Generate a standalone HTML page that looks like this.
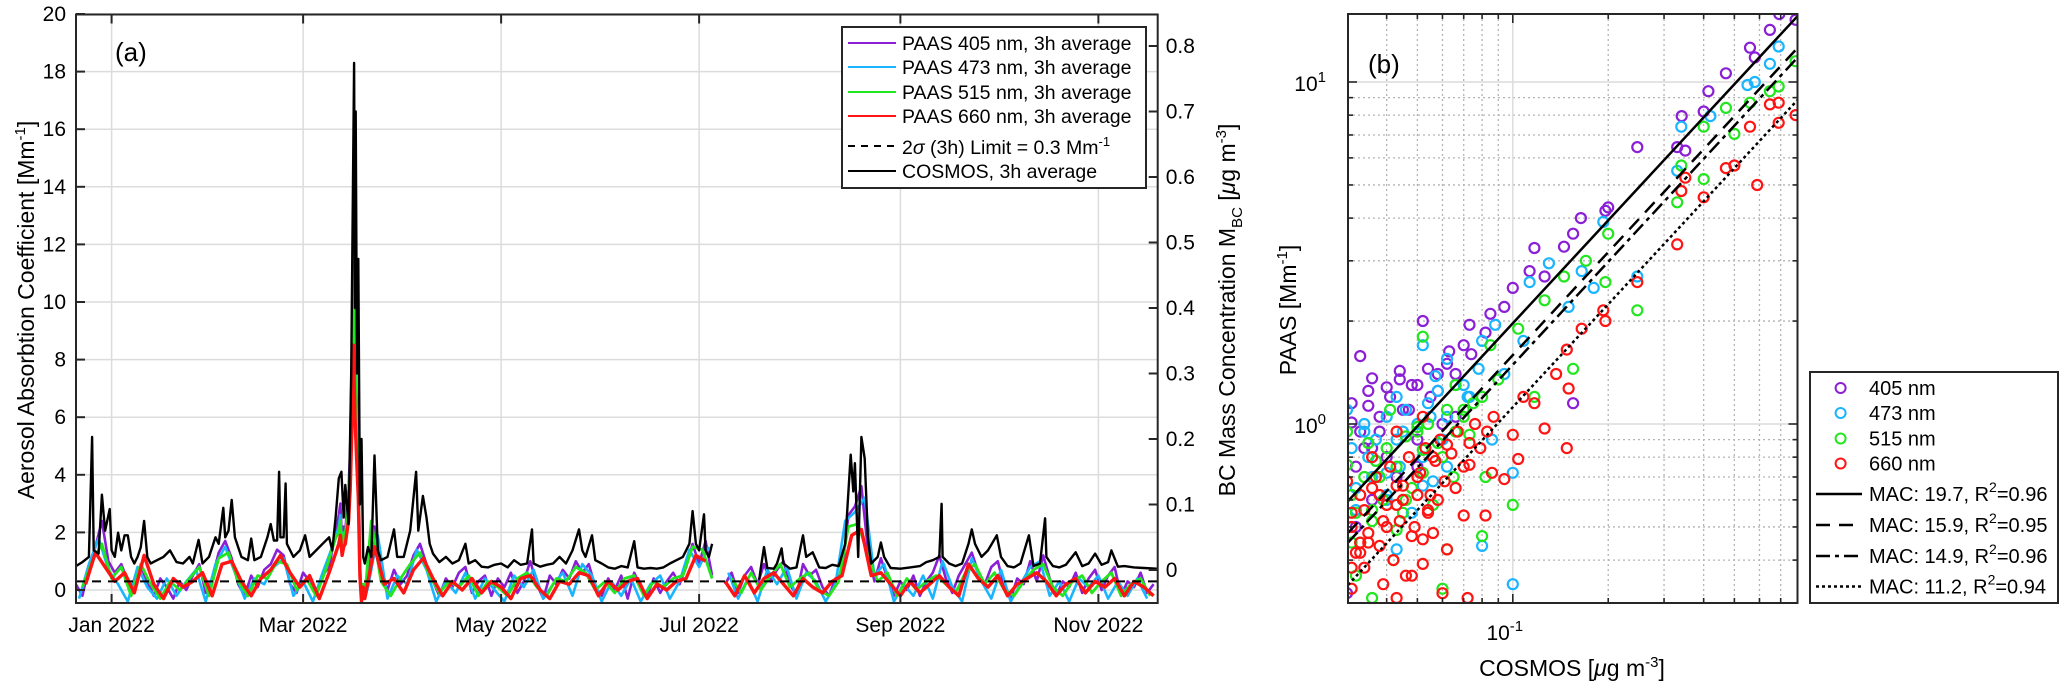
<!DOCTYPE html>
<html><head><meta charset="utf-8">
<style>
html,body{margin:0;padding:0;background:#fff;}
svg{display:block;font-family:"Liberation Sans",Arial,sans-serif;}
</style></head>
<body>
<svg id="fig" width="2067" height="689" viewBox="0 0 2067 689" xmlns="http://www.w3.org/2000/svg">
<defs>
<clipPath id="clipA"><rect x="76" y="14.5" width="1081.7" height="588.5"/></clipPath>
<clipPath id="clipB"><rect x="1348" y="14" width="449.5" height="589"/></clipPath>
</defs>
<g id="panelA"></g>
<g id="panelB"></g>
</svg>
<script>
// ---------- Panel (a) data ----------
const monthLabels = ["Jan 2022","Mar 2022","May 2022","Jul 2022","Sep 2022","Nov 2022"];
const monthDays = [0,59,120,181,243,304];
const leftTicks = [0,2,4,6,8,10,12,14,16,18,20];
const rightTicks = [0,0.1,0.2,0.3,0.4,0.5,0.6,0.7,0.8];
const limitValue = 0.3;
// COSMOS (ug m-3) – day offsets from 1 Jan 2022
const cosmosDays = [-11,-9,-7,-6,-5.5,-4,-3,-2,-0.6,0,1,2,3,4,5,6,7,8,9,10,11,12,14,16,18,20,22,24,25,26.8,28,30,32,33,34.4,35,36,37,38,40,42,43,44,46,48,49,50,51,51.6,52,53,53.6,54,56,58,59.6,61,63,65,67,68,69,70,70.8,71.5,72,73,73.8,74.7,75,75.2,75.6,76,76.5,77,77.5,78,79,80,81,82,83,85,87,88,90,92,93.8,94.5,95.9,97,98,99,101,103,105,107,109,110,112,114,116,118,120,122,124,126,128,129.5,130,132,134,136,138,140,142,144,145,146,148,149,151,153,155,157,159,161,162,164,166,168,170,172,174,176,178,179,180,181,182.5,183,184,185,185.5,199.5,200,201,202,204,205,206.4,207,209,211,213,214,216,218,220,222,224,225,226,227.7,228.5,229,230,231,232,233,234,236,237,238,240,243,246,249,251,253,255,255.7,256,258,260,262,264,265,266,268,270,272.7,274,276,278,280,282.6,284,286,287.6,288,290,292,294,297,299,301,303,305,307,308,310,312,315,318,322];
const cosmosVals = [.006,.012,.02,.203,.03,.025,.115,.06,.093,.03,.02,.057,.03,.053,.053,.02,.01,.02,.035,.075,.02,.01,.015,.02,.03,.012,.01,.02,.01,.046,.01,.02,.05,.04,.095,.05,.06,.107,.05,.02,.015,.048,.015,.02,.05,.07,.045,.045,.15,.05,.05,.132,.04,.02,.03,.053,.02,.03,.04,.05,.03,.08,.14,.15,.08,.13,.07,.3,.774,.4,.70,.3,.475,.1,.2,.02,.01,.035,.02,.175,.03,.015,.02,.062,.02,.02,.06,.15,.06,.113,.08,.04,.025,.012,.02,.01,.015,.04,.01,.015,.005,.004,.008,.01,.004,.015,.008,.01,.062,.01,.005,.008,.01,.02,.01,.03,.062,.03,.02,.053,.015,.01,.004,.002,.006,.004,.044,.004,.002,.003,.002,.004,.01,.015,.02,.04,.09,.04,.03,.085,.03,.02,.04,null,-.015,.003,.035,.003,.002,.01,.033,.01,.002,.004,.053,.02,.027,.004,.003,.008,.006,.023,.04,.176,.12,.163,.02,.203,.17,.05,.01,.02,.042,.02,.003,.002,.004,.006,.012,.015,.02,.101,.02,.01,.006,.01,.04,.062,.04,.02,.03,.053,.02,.006,.004,.01,.053,.006,.01,.079,.02,.006,.004,.008,.027,.006,.01,.025,.008,.012,.03,.005,.006,.004,.003,.002];
// PAAS series (Mm-1)
const paas405 = [0.2,-0.2,0.8,1.5,2.4,1.0,0.6,0.9,0.3,-0.1,0.8,0.3,-0.2,0.4,0.1,-0.3,0.3,0.0,0.5,0.9,-0.1,0.4,1.3,1.7,1.1,0.2,-0.2,0.5,0.1,0.7,0.9,1.4,1.2,0.2,-0.1,0.6,0.3,-0.2,0.5,0.8,2.0,
2.6,3.0,1.6,2.2,2.0,2.8,3.5,5.0,8.0,13.0,9.0,6.5,5.0,1.0,-0.3,0.2,-0.2,
0.4,2.2,0.6,0.0,0.7,0.2,0.5,1.2,1.6,0.9,0.3,-0.2,0.4,0.1,0.6,0.8,-0.1,0.3,0.5,-0.2,0.4,0.1,0.6,-0.1,0.3,1.0,0.2,-0.3,0.5,0.2,0.7,0.4,1.0,0.6,0.9,0.1,-0.2,0.4,0.0,0.5,-0.3,0.6,0.1,-0.2,0.4,-0.1,0.3,0.6,0.2,0.8,1.6,0.9,1.7,0.5,null,0.2,0.6,-0.1,0.5,0.8,0.2,0.9,0.3,0.7,1.0,0.2,-0.2,0.9,0.5,0.7,0.1,-0.2,0.4,0.6,2.6,2.9,3.6,1.4,0.3,1.1,0.4,-0.2,0.3,0.0,0.5,-0.2,0.3,0.6,1.2,0.4,-0.1,0.5,0.9,1.3,0.6,0.2,0.8,1.0,0.1,-0.3,0.4,0.2,1.0,0.3,1.2,0.4,-0.2,0.3,0.1,0.6,-0.1,0.4,0.7,0.0,0.5,0.8,-0.2,0.3,0.1,0.6,-0.1,0.2];
const paas473 = [-0.3,0.9,1.8,0.7,0.2,-0.4,0.8,0.1,-0.3,0.4,-0.2,0.3,0.7,-0.4,0.9,1.5,0.6,-0.3,0.4,0.2,0.8,1.1,-0.2,0.3,-0.4,0.6,1.5,
2.2,2.6,1.3,2.0,1.8,2.5,3.2,4.6,7.5,12.0,8.5,6.0,4.5,0.8,-0.4,0.1,-0.3,
0.1,1.9,-0.3,0.5,0.2,1.4,0.7,-0.4,0.3,-0.1,0.6,-0.3,0.4,0.0,-0.4,0.5,0.1,0.7,-0.3,0.2,0.6,-0.2,0.9,0.5,-0.4,0.3,-0.2,0.4,-0.4,0.2,0.5,-0.3,0.3,1.4,0.8,1.5,null,0.6,-0.3,0.4,-0.4,0.7,0.2,0.8,-0.3,0.6,0.3,-0.4,0.2,2.4,2.7,3.2,0.5,0.9,-0.4,0.2,-0.2,0.5,-0.3,1.0,0.1,-0.4,1.1,0.3,-0.3,0.7,-0.4,0.2,0.8,1.0,-0.2,0.3,-0.4,0.4,0.1,0.5,-0.3,0.3,-0.2,0.4,-0.3];
const paas515 = [0.1,1.0,1.6,0.4,0.8,-0.2,0.9,0.2,-0.3,0.3,0.0,0.4,0.8,-0.2,1.1,1.3,0.3,-0.2,0.5,0.4,1.0,0.9,0.0,0.4,-0.2,0.7,1.8,
2.0,2.4,1.5,1.9,2.0,2.4,3.0,4.3,7.0,11.5,8.0,5.5,4.0,0.7,-0.3,0.2,-0.2,
2.4,0.3,-0.2,0.4,0.9,1.3,0.5,-0.1,0.3,0.1,0.5,-0.2,0.3,0.1,-0.2,0.4,0.6,0.1,-0.2,0.4,0.3,0.8,0.6,0.0,0.3,-0.1,0.4,0.5,-0.2,0.3,0.1,0.4,0.5,1.5,1.4,0.4,null,0.4,-0.1,0.6,0.0,0.5,0.9,0.1,0.4,0.6,0.0,-0.2,0.3,2.2,2.3,1.2,0.3,0.6,-0.2,0.4,0.0,0.3,0.5,0.2,-0.1,0.6,0.9,0.2,0.6,0.0,-0.2,0.3,0.7,0.9,0.1,-0.2,0.3,0.5,-0.1,0.3,0.6,-0.2,0.2,0.4,-0.2];
const paas660 = [0.2,1.3,0.8,0.3,0.6,-0.1,1.2,0.2,-0.3,0.4,0.1,0.3,0.6,-0.2,0.9,1.0,0.3,-0.2,0.4,0.7,1.2,0.6,0.1,0.5,-0.3,0.6,
1.6,1.9,1.2,1.5,1.6,2.0,2.4,3.5,5.5,8.5,6.0,4.5,3.2,0.5,-0.4,0.1,-0.3,
1.5,0.2,0.4,-0.1,0.7,1.1,0.4,-0.2,0.3,0.0,0.4,-0.1,0.3,0.1,-0.3,0.4,0.5,0.0,-0.3,0.3,0.2,0.6,0.5,-0.2,0.3,0.0,0.3,0.4,-0.3,0.2,0.0,0.3,0.4,1.2,1.0,null,0.3,-0.2,0.5,-0.1,0.4,0.6,0.2,-0.2,0.4,0.1,-0.1,0.3,0.5,1.9,2.1,0.5,0.6,0.2,-0.2,0.3,-0.1,0.2,0.5,0.1,-0.2,0.9,0.4,0.1,0.5,-0.2,0.2,0.4,0.6,0.3,-0.2,0.2,0.4,-0.1,0.3,0.1,0.4,-0.2,0.3,0.1,-0.2];
const paasFirstSeg = {p405:[-11,2,41,79,2],p473:[-10,3,27,79,3],p515:[-9,3,27,80,3],p660:[-8,3,26,81,3]};

// ---------- Panel (b) data : [COSMOS ug m-3, PAAS Mm-1] ----------
const sc405x = [.693,.78,.647,.56,.58,.47,.414,.341,.247,.33,.40,.35,.196,.2,.164,.145,.117,.113,.1,.085,.073,.052,.063,.033,.036,.044,.04,.031,.035,.048,.058,.074,.082,.094,.126,.155,.05,.066,.155,.03,.036,.043,.032,.034,.038,.045,.055,.06,.04,.05,
.031,.033,.035,.038,.041,.044,.047,.050,.054,.058,.062,.066,.070,.032,.036];
const sc405y = [15.8,15.2,14.2,12.6,11.8,10.6,9.4,7.95,6.45,6.45,8.2,6.3,4.2,4.3,4.0,3.3,3.27,2.8,2.5,2.1,1.95,2.0,1.63,1.58,1.36,1.43,1.28,1.01,1.13,1.3,1.4,1.6,1.85,2.2,2.7,3.6,.90,1.05,1.15,.32,.6,.7,.5,.85,.95,1.1,1.2,1.0,.8,.75,
1.15,.95,1.25,1.05,1.2,1.35,1.1,1.3,1.45,1.25,1.5,1.4,1.7,.75,.85];
const sc473x = [.69,.647,.58,.55,.42,.34,.33,.247,.193,.13,.165,.113,.088,.08,.062,.052,.057,.043,.034,.03,.037,.073,.094,.108,.1,.08,.052,.04,.062,.086,.1,.032,.043,.15,.18,.035,.045,.055,.07,.04,
.031,.034,.037,.040,.043,.046,.050,.054,.058,.062,.066,.072,.078,.032,.036,.040,.044,.048,.052,.056,.060];
const sc473y = [12.7,11.3,10,9.8,7.95,7.4,5.5,2.7,3.9,2.95,2.8,2.6,1.95,1.75,1.55,1.7,1.38,1.2,1.0,1.1,.9,1.2,1.4,1.75,.34,.44,.66,.72,.75,.9,.72,.56,.43,2.2,2.5,.8,.95,1.05,1.3,.62,
.85,.95,.78,1.05,.90,1.1,1.0,1.15,1.25,1.05,1.3,1.2,1.45,.65,.70,.60,.75,.55,.80,.68,.90];
const sc515x = [.78,.69,.647,.56,.5,.47,.40,.40,.34,.33,.247,.2,.196,.17,.145,.126,.104,.085,.066,.052,.041,.03,.035,.052,.073,.082,.1,.08,.06,.036,.032,.043,.062,.046,.036,.117,.155,.038,.05,.07,.09,.031,
.031,.034,.037,.040,.043,.046,.050,.054,.058,.062,.066,.070,.075,.080,.033,.036,.039,.042,.045,.048,.052,.056,.060,.065,.030,.032];
const sc515y = [11.5,9.7,9.4,8.7,7.05,8.4,7.4,5.2,5.7,4.45,2.15,3.6,2.6,3.0,2.7,2.3,1.9,1.7,1.3,1.8,1.1,.76,.88,.84,.93,.7,.58,.47,.33,.31,.36,.49,.43,.6,.56,1.2,1.45,.7,.95,1.1,1.35,.45,
.62,.70,.78,.85,.75,.92,.98,1.0,.88,1.1,.95,1.05,1.15,1.2,.45,.52,.60,.40,.55,.65,.72,.58,.80,.70,.95,.55];
const sc660x = [.78,.69,.69,.647,.56,.59,.5,.47,.40,.35,.34,.33,.247,.196,.193,.165,.148,.15,.148,.126,.108,.1,.086,.073,.062,.052,.043,.036,.03,.034,.043,.054,.062,.082,.094,.048,.039,.031,.072,.06,.043,.052,.07,.104,.137,.117,.035,.04,.045,.05,.033,.038,.056,.066,.031,
.031,.033,.035,.037,.039,.041,.043,.045,.047,.049,.051,.053,.055,.057,.059,.061,.064,.067,.07,.073,.076,.079,.083,.087,.032,.034,.036,.038,.040,.042,.044,.046,.048,.050,.052,.054,.056,.058,.031,.033];
const sc660y = [8.0,8.7,7.6,8.6,7.4,5.0,5.7,5.6,4.6,5.25,4.8,3.35,2.6,2.0,2.15,1.9,1.65,1.27,.85,.97,1.2,.93,.72,.76,.87,1.05,.95,.8,.68,.56,.66,.56,.43,.54,.69,.36,.34,.38,.31,.32,.31,.46,.54,.79,1.4,1.15,.45,.5,.6,.7,.42,.62,.8,.65,.5,
.55,.62,.48,.70,.52,.75,.58,.66,.80,.50,.72,.85,.62,.78,.90,.68,.82,.95,.75,.88,1.0,.85,.95,1.05,.42,.38,.65,.44,.58,.40,.52,.36,.47,.62,.39,.55,.48,.60,.33,.45];
const macValues = [19.7,15.9,14.9,11.2];
const macR2 = ["0.96","0.95","0.96","0.94"];
const bYTicks = [1,10];
const bXTicks = [0.1];

const NS = "http://www.w3.org/2000/svg";
function mk(tag, attrs, parent){ const e=document.createElementNS(NS,tag); for(const k in attrs) e.setAttribute(k,attrs[k]); if(parent) parent.appendChild(e); return e; }

// ---------- Panel A ----------
const A = document.getElementById('panelA');
const ax = {l:76, r:1157.7, t:14.5, b:603};
const xA = d => 111.6 + d*3.246;
const yL = v => 590 - v*28.8;
const yR = v => 570 - v*655;

const gA = mk('g',{},A);
 
leftTicks.forEach(t=>{ mk('line',{x1:ax.l,x2:ax.r,y1:yL(t),y2:yL(t),stroke:'#dcdcdc','stroke-width':1.5},gA); });
monthDays.forEach(d=>{ mk('line',{x1:xA(d),x2:xA(d),y1:ax.t,y2:ax.b,stroke:'#dcdcdc','stroke-width':1.5},gA); });

const dataA = mk('g',{'clip-path':'url(#clipA)'},A);
 

function paasDays(spec, n){
  const [s1,st1,n1,s3,st3]=spec; const out=[];
  for(let i=0;i<n;i++){
    if(i<n1) out.push(s1+st1*i);
    else if(i<n1+17) out.push(70+0.5*(i-n1));
    else out.push(s3+st3*(i-n1-17));
  }
  return out;
}
function pathFrom(days, vals, yf){
  let d='', pen=false;
  for(let i=0;i<vals.length;i++){
    if(vals[i]===null||vals[i]===undefined){ pen=false; continue; }
    d += (pen?'L':'M') + xA(days[i]).toFixed(1) + ' ' + yf(vals[i]).toFixed(1) + ' ';
    pen=true;
  }
  return d;
}
const series = [
  ['p405',paas405,'#8a1fd6',2.6,'line-paas-405'],
  ['p473',paas473,'#19b5ff',2.6,'line-paas-473'],
  ['p515',paas515,'#22e61e',2.8,'line-paas-515'],
  ['p660',paas660,'#ff1414',3.4,'line-paas-660']
];
series.forEach(s=>{
  const days = paasDays(paasFirstSeg[s[0]], s[1].length);
  const p = mk('path',{d:pathFrom(days,s[1],yL),fill:'none',stroke:s[2],'stroke-width':s[3],'stroke-linejoin':'round'},dataA);
  
  
});
const lim = mk('line',{x1:ax.l,x2:ax.r,y1:yL(limitValue),y2:yL(limitValue),stroke:'#000','stroke-width':2,'stroke-dasharray':'9 7'},dataA);
 
const cos = mk('path',{d:pathFrom(cosmosDays,cosmosVals,yR),fill:'none',stroke:'#000','stroke-width':2.4,'stroke-linejoin':'round'},dataA);
 

const boxA = mk('rect',{x:ax.l,y:ax.t,width:ax.r-ax.l,height:ax.b-ax.t,fill:'none',stroke:'#262626','stroke-width':2},A);
 
const tkA = mk('g',{stroke:'#262626','stroke-width':2},A);
 
leftTicks.forEach(t=>{ mk('line',{x1:ax.l,x2:ax.l+9,y1:yL(t),y2:yL(t)},tkA); });
rightTicks.forEach(t=>{ mk('line',{x1:ax.r,x2:ax.r-9,y1:yR(t),y2:yR(t)},tkA); });
monthDays.forEach(d=>{ mk('line',{x1:xA(d),x2:xA(d),y1:ax.b,y2:ax.b-9},tkA); mk('line',{x1:xA(d),x2:xA(d),y1:ax.t,y2:ax.t+9},tkA); });

const lblA = mk('g',{'font-size':21,fill:'#000'},A);
 
leftTicks.forEach(t=>{ const e=mk('text',{x:ax.l-10,y:yL(t)+7,'text-anchor':'end'},lblA); e.textContent=t;
    });
rightTicks.forEach(t=>{ const e=mk('text',{x:ax.r+8,y:yR(t)+7,'text-anchor':'start'},lblA); e.textContent=(t===0?'0':t.toFixed(1));
    });
monthDays.forEach((d,i)=>{ const e=mk('text',{x:xA(d),y:632,'text-anchor':'middle'},lblA); e.textContent=monthLabels[i];
    });
</script>

<script>
(function(){
const A=document.getElementById('panelA');
A.insertAdjacentHTML('beforeend',`
<text x="115" y="61" font-size="26">(a)</text>
<text transform="translate(34,310) rotate(-90)" font-size="23" text-anchor="middle">Aerosol Absorbtion Coefficient [Mm<tspan dy="-9" font-size="15">-1</tspan><tspan dy="9">]</tspan></text>
<text transform="translate(1235,310) rotate(-90)" font-size="23" text-anchor="middle">BC Mass Concentration M<tspan dy="7" font-size="15">BC</tspan><tspan dy="-7"> [</tspan><tspan font-style="italic">μ</tspan>g m<tspan dy="-9" font-size="15">-3</tspan><tspan dy="9">]</tspan></text>
<g>
<rect x="842" y="27" width="304" height="161" fill="#fff" stroke="#262626" stroke-width="2"/>
<g font-size="19.5">
<g><line x1="848" x2="896" y1="43" y2="43" stroke="#8a1fd6" stroke-width="2"/><text x="902" y="50">PAAS 405 nm, 3h average</text></g>
<g><line x1="848" x2="896" y1="67" y2="67" stroke="#19b5ff" stroke-width="2"/><text x="902" y="74">PAAS 473 nm, 3h average</text></g>
<g><line x1="848" x2="896" y1="92" y2="92" stroke="#22e61e" stroke-width="2"/><text x="902" y="99">PAAS 515 nm, 3h average</text></g>
<g><line x1="848" x2="896" y1="116" y2="116" stroke="#ff1414" stroke-width="2"/><text x="902" y="123">PAAS 660 nm, 3h average</text></g>
<g><line x1="848" x2="896" y1="146" y2="146" stroke="#000" stroke-width="2" stroke-dasharray="7 6"/><text x="902" y="154">2<tspan font-style="italic">σ</tspan> (3h) Limit = 0.3 Mm<tspan dy="-8" font-size="13">-1</tspan></text></g>
<g><line x1="848" x2="896" y1="171" y2="171" stroke="#000" stroke-width="2"/><text x="902" y="178">COSMOS, 3h average</text></g>
</g></g>`);
})();
</script>

<script>
(function(){
const B = document.getElementById('panelB');
const bx = {l:1348, r:1797.5, t:14, b:603};
const xB = v => 1512.8 + Math.log10(v/0.1)*317;
const yB = v => 424 - Math.log10(v)*342;
function mk(tag, attrs, parent){ const e=document.createElementNS("http://www.w3.org/2000/svg",tag); for(const k in attrs) e.setAttribute(k,attrs[k]); if(parent) parent.appendChild(e); return e; }

const g = mk('g',{},B);
 
[0.3,0.4,0.5,0.6,0.7,0.8,0.9,2,3,4,5,6,7,8,9].forEach(v=>{ mk('line',{x1:bx.l,x2:bx.r,y1:yB(v),y2:yB(v),stroke:'#b4b4b4','stroke-width':1.3,'stroke-dasharray':'2 3'},g); });
[0.04,0.05,0.06,0.07,0.08,0.09,0.2,0.3,0.4,0.5,0.6,0.7].forEach(v=>{ mk('line',{x1:xB(v),x2:xB(v),y1:bx.t,y2:bx.b,stroke:'#b4b4b4','stroke-width':1.3,'stroke-dasharray':'2 3'},g); });
bYTicks.forEach(v=>{ mk('line',{x1:bx.l,x2:bx.r,y1:yB(v),y2:yB(v),stroke:'#dcdcdc','stroke-width':1.5},g); });
bXTicks.forEach(v=>{ mk('line',{x1:xB(v),x2:xB(v),y1:bx.t,y2:bx.b,stroke:'#dcdcdc','stroke-width':1.5},g); });

const pts = mk('g',{'clip-path':'url(#clipB)',fill:'none','stroke-width':2.2},B);
 
const sets = [[sc405x,sc405y,'#8a1fd6','point-405'],[sc473x,sc473y,'#19b5ff','point-473'],[sc515x,sc515y,'#22e61e','point-515'],[sc660x,sc660y,'#ff1414','point-660']];
sets.forEach(s=>{
  for(let i=0;i<s[0].length;i++){
    const c = mk('circle',{cx:xB(s[0][i]).toFixed(1),cy:yB(s[1][i]).toFixed(1),r:5,stroke:s[2]},pts);
    
    
  }
});
const dashes = ['', '14 9', '14 5 4 5', '3 3'];
const fitG = mk('g',{'clip-path':'url(#clipB)'},B);
 
macValues.forEach((m,i)=>{
  const x0=0.0302, x1=0.79;
  const ln = mk('line',{x1:xB(x0),y1:yB(m*x0),x2:xB(x1),y2:yB(m*x1),stroke:'#000','stroke-width':2.5,'stroke-dasharray':dashes[i]},fitG);
  
  
});
const box = mk('rect',{x:bx.l,y:bx.t,width:bx.r-bx.l,height:bx.b-bx.t,fill:'none',stroke:'#262626','stroke-width':2},B);
 
const tk = mk('g',{stroke:'#262626','stroke-width':1.6},B);
 
[0.3,0.4,0.5,0.6,0.7,0.8,0.9,2,3,4,5,6,7,8,9].forEach(v=>{ mk('line',{x1:bx.l,x2:bx.l+5,y1:yB(v),y2:yB(v)},tk); mk('line',{x1:bx.r,x2:bx.r-5,y1:yB(v),y2:yB(v)},tk); });
bYTicks.forEach(v=>{ mk('line',{x1:bx.l,x2:bx.l+9,y1:yB(v),y2:yB(v)},tk); mk('line',{x1:bx.r,x2:bx.r-9,y1:yB(v),y2:yB(v)},tk); });
[0.04,0.05,0.06,0.07,0.08,0.09,0.2,0.3,0.4,0.5,0.6,0.7].forEach(v=>{ mk('line',{x1:xB(v),x2:xB(v),y1:bx.b,y2:bx.b-5},tk); mk('line',{x1:xB(v),x2:xB(v),y1:bx.t,y2:bx.t+5},tk); });
bXTicks.forEach(v=>{ mk('line',{x1:xB(v),x2:xB(v),y1:bx.b,y2:bx.b-9},tk); mk('line',{x1:xB(v),x2:xB(v),y1:bx.t,y2:bx.t+9},tk); });

const lab = mk('g',{'font-size':21},B);
 
bYTicks.forEach(v=>{
  const t = mk('text',{x:bx.l-22,y:yB(v)+9,'text-anchor':'end'},lab);
   
  t.innerHTML = '10<tspan dy="-9" font-size="15">'+Math.round(Math.log10(v))+'</tspan>';
});
bXTicks.forEach(v=>{
  const t = mk('text',{x:xB(v)-8,y:640,'text-anchor':'middle'},lab);
   
  t.innerHTML = '10<tspan dy="-9" font-size="15">'+Math.round(Math.log10(v))+'</tspan>';
});

const lg = mk('g',{},B);
 
mk('rect',{x:1810,y:372,width:248,height:231,fill:'#fff',stroke:'#262626','stroke-width':2},lg);
const names=['405 nm','473 nm','515 nm','660 nm']; const cols=['#8a1fd6','#19b5ff','#22e61e','#ff1414'];
const rowsY=[388,413,438.5,463.5];
names.forEach((n,i)=>{
  const e = mk('g',{},lg);
  
  
  mk('circle',{cx:1840.6,cy:rowsY[i],r:5,fill:'none',stroke:cols[i],'stroke-width':2},e);
  const t=mk('text',{x:1869,y:rowsY[i]+7,'font-size':20},e); t.textContent=n;
});
const fitY=[494,525,556,586.5];
macValues.forEach((m,i)=>{
  const e = mk('g',{},lg);
  
  
  mk('line',{x1:1816,x2:1862,y1:fitY[i],y2:fitY[i],stroke:'#000','stroke-width':2.5,'stroke-dasharray':dashes[i]},e);
  const t=mk('text',{x:1869,y:fitY[i]+7,'font-size':20},e);
  t.innerHTML='MAC: '+m.toFixed(1)+', R<tspan dy="-9" font-size="14">2</tspan><tspan dy="9">='+macR2[i]+'</tspan>';
});
B.insertAdjacentHTML('beforeend',`
<text x="1368" y="73" font-size="26">(b)</text>
<text transform="translate(1296,310) rotate(-90)" font-size="23" text-anchor="middle">PAAS [Mm<tspan dy="-9" font-size="15">-1</tspan><tspan dy="9">]</tspan></text>
<text x="1572" y="676" font-size="23" text-anchor="middle">COSMOS [<tspan font-style="italic">μ</tspan>g m<tspan dy="-9" font-size="15">-3</tspan><tspan dy="9">]</tspan></text>`);
})();
</script>
</body></html>
